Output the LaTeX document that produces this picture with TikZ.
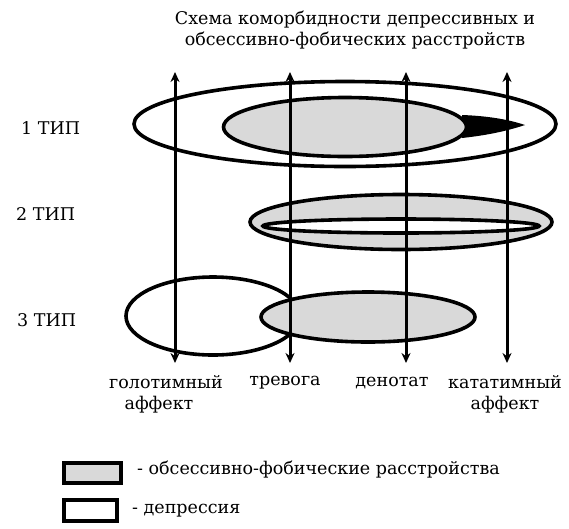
\documentclass[tikz,border=0pt]{standalone}
\usepackage{fontspec}
\setmainfont{DejaVu Serif}
\usetikzlibrary{shapes.geometric, arrows.meta}
\tikzstyle{depr} = [
    ellipse,
    inner sep=0pt,
    line width=3.6pt,
    fill=white,
    draw=black
]
\tikzstyle{obsfob} = [
    ellipse,
    inner sep=0pt,
    line width=3.6pt,
    fill=gray!30,
    draw=black
]
\tikzstyle{legendbox} = [
    rectangle,
    inner sep=0pt,
    line width=4pt,
    draw=black
]
\tikzstyle{axis} = [line width=3pt,<->,>={Stealth[length=10pt,width=9pt]}]
\tikzstyle{txt} = [inner sep=0pt, font=\fontsize{17.5}{21}\selectfont]

\begin{document}
\begin{tikzpicture}[x=1pt, y=-1pt]
\useasboundingbox (0,0) rectangle (569,528);

\node (title) [txt, align=center] at (355,30)
{Схема коморбидности депрессивных и\\обсессивно-фобических расстройств};

% 1 type
\node (dep1) [depr, minimum width=422pt, minimum height=85pt] at (345,124) {};
\fill (462,115) .. controls (490,116) and (510,120) .. (525,125)
    .. controls (510,130) and (490,135) .. (462,138) -- cycle;
\node (obs1) [obsfob, minimum width=243pt, minimum height=59pt] at (345,127) {};

% 2 type
\node (obs2) [obsfob, minimum width=302pt, minimum height=55pt] at (401,222) {};
\node (dep2) [depr, minimum width=276pt, minimum height=14pt] at (401,226) {};

% 3 type
\node (dep3) [depr, minimum width=174pt, minimum height=78pt] at (213,316) {};
\node (obs3) [obsfob, minimum width=214pt, minimum height=50pt] at (368,317) {};

\node (type1) [txt, anchor=west] at (21,128) {1 ТИП};
\node (type2) [txt, anchor=west] at (16,214) {2 ТИП};
\node (type3) [txt, anchor=west] at (17,320) {3 ТИП};

% axes
\coordinate (holotop) at (175,72);
\coordinate (holobot) at (175,363);
\coordinate (trevtop) at (290,72);
\coordinate (trevbot) at (290,363);
\coordinate (dentop) at (406,72);
\coordinate (denbot) at (406,363);
\coordinate (katatop) at (507,72);
\coordinate (katabot) at (507,363);

\draw [axis] (holobot) -- (holotop);
\draw [axis] (trevbot) -- (trevtop);
\draw [axis] (denbot) -- (dentop);
\draw [axis] (katabot) -- (katatop);

\node (holo) [txt, align=center] at (166,394) {голотимный\\\hspace*{-14pt}аффект};
\node (trev) [txt] at (285,383) {тревога};
\node (den) [txt] at (392,383) {денотат};
\node (kata) [txt, align=center] at (505,394) {кататимный\\аффект};

% legend
\node (legobs) [legendbox, fill=gray!30, minimum width=57pt, minimum height=20pt] at (92,473) {};
\node (legdep) [legendbox, fill=white, minimum width=53pt, minimum height=21pt] at (90,510) {};
\node (legobstxt) [txt, anchor=west] at (137,470) {- обсессивно-фобические расстройства};
\node (legdeptxt) [txt, anchor=west] at (132,511) {- депрессия};

\end{tikzpicture}
\end{document}
